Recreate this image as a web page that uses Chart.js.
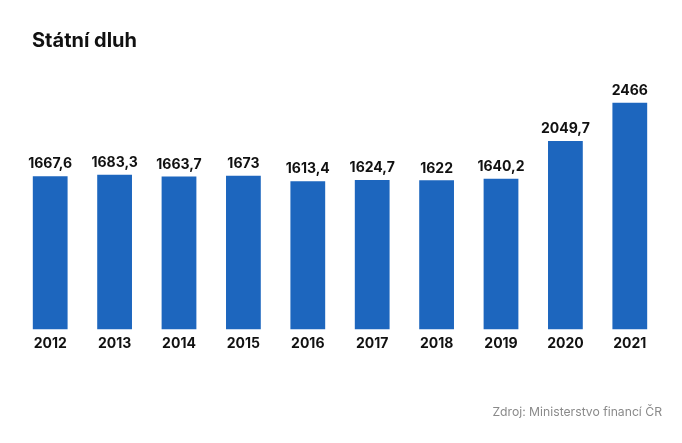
<!DOCTYPE html>
<html>
<head>
<meta charset="utf-8">
<script src="https://cdn.jsdelivr.net/npm/chart.js@4"></script>
<style>
  html, body { margin: 0; padding: 0; background: #fff; }
  #wrap { width: 682px; height: 443px; position: relative; }
  #title {
    position: absolute; left: 32px; top: 28px; margin: 0;
    font: bold 20px Inter, "Open Sans", sans-serif; color: #111;
  }
</style>
</head>
<body>
<div id="wrap">
  <h1 id="title"></h1>
  <canvas id="chart"></canvas>
</div>
<script>
const years = ["2012", "2013", "2014", "2015", "2016", "2017", "2018", "2019", "2020", "2021"];
const debt = [1667.6, 1683.3, 1663.7, 1673, 1613.4, 1624.7, 1622, 1640.2, 2049.7, 2466];
const titleText = "Státní dluh";
const sourceText = "Zdroj: Ministerstvo financí ČR";

document.getElementById("title").textContent = titleText;

// values above bars, with decimal comma
const valueLabels = {
    id: "valueLabels",
    afterDatasetsDraw(chart) {
        const ctx = chart.ctx;
        const meta = chart.getDatasetMeta(0);
        ctx.save();
        ctx.font = "bold 14px Inter, 'Open Sans', sans-serif";
        ctx.fillStyle = "#111";
        ctx.textAlign = "center";
        ctx.textBaseline = "bottom";
        meta.data.forEach((bar, i) => {
            ctx.fillText(String(debt[i]).replace(".", ","), bar.x, bar.y - 5);
        });
        ctx.restore();
    }
};

new Chart(document.getElementById("chart"), {
    type: "bar",
    data: {
        labels: years,
        datasets: [{
            data: debt,
            backgroundColor: "#1d66be",
            categoryPercentage: 1,
            barPercentage: 0.54
        }]
    },
    options: {
        responsive: true,
        maintainAspectRatio: false,
        animation: false,
        layout: { padding: { left: 18, right: 20, top: 72, bottom: 20 } },
        plugins: {
            legend: { display: false },
            tooltip: { enabled: false },
            title: { display: false },
            subtitle: {
                display: true,
                text: sourceText,
                position: "bottom",
                align: "end",
                color: "#8a8a8a",
                font: { family: "Inter, 'Open Sans', sans-serif", size: 12.2 },
                padding: { top: 47, bottom: 3 }
            }
        },
        scales: {
            x: {
                grid: { display: false, drawTicks: false },
                border: { display: false },
                ticks: {
                    color: "#111",
                    padding: 6,
                    font: { family: "Inter, 'Open Sans', sans-serif", size: 14, weight: "bold" }
                }
            },
            y: {
                display: false,
                min: 0,
                max: 2800
            }
        }
    },
    plugins: [valueLabels]
});
</script>
</body>
</html>
